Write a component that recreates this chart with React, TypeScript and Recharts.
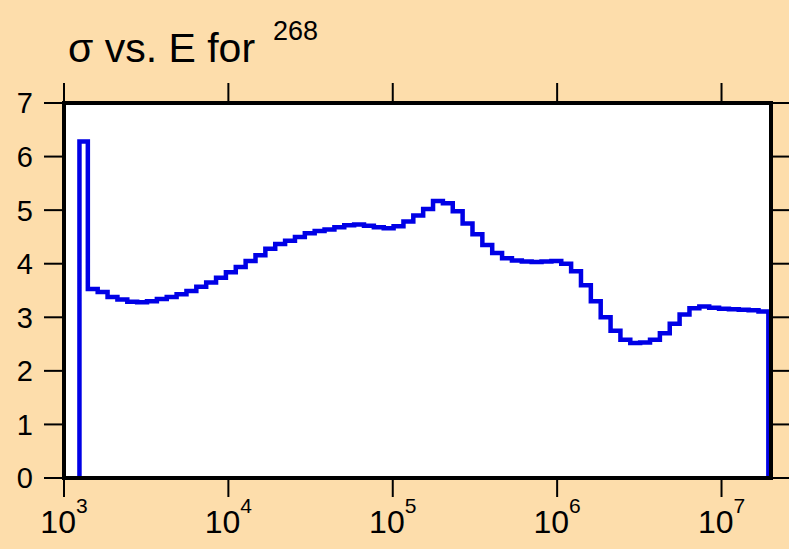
import React from 'react';
import { LineChart, Line, XAxis, YAxis, CartesianGrid } from 'recharts';

// log10(E) of the left edge of the first (spike) bin and its cross section
const spikeStart = 3.094;
const spikeValue = 6.28;

// log10(E) left edges of the regular bins
const binEdges = [
  3.145, 3.205, 3.265, 3.325, 3.385, 3.445, 3.505, 3.565, 3.625, 3.685,
  3.745, 3.805, 3.865, 3.925, 3.985, 4.045, 4.105, 4.165, 4.225, 4.285,
  4.345, 4.405, 4.465, 4.525, 4.585, 4.645, 4.705, 4.765, 4.825, 4.885,
  4.945, 5.005, 5.065, 5.125, 5.185, 5.245, 5.305, 5.365, 5.425, 5.485,
  5.545, 5.605, 5.665, 5.725, 5.785, 5.845, 5.905, 5.965, 6.025, 6.085,
  6.145, 6.205, 6.265, 6.325, 6.385, 6.445, 6.505, 6.565, 6.625, 6.685,
  6.745, 6.805, 6.865, 6.925, 6.985, 7.045, 7.105, 7.165, 7.225,
];
const binEnd = 7.285;

// cross section σ in each bin
const sigma = [
  3.53, 3.47, 3.38, 3.33, 3.29, 3.28, 3.30, 3.34, 3.38, 3.43,
  3.49, 3.57, 3.65, 3.74, 3.84, 3.94, 4.05, 4.16, 4.28, 4.37,
  4.43, 4.50, 4.57, 4.61, 4.64, 4.68, 4.72, 4.73, 4.71, 4.68,
  4.66, 4.70, 4.79, 4.90, 5.02, 5.17, 5.13, 4.98, 4.75, 4.55,
  4.35, 4.20, 4.10, 4.06, 4.04, 4.03, 4.04, 4.05, 4.00, 3.86,
  3.60, 3.30, 3.00, 2.75, 2.58, 2.52, 2.53, 2.58, 2.70, 2.88,
  3.05, 3.17, 3.20, 3.18, 3.16, 3.15, 3.14, 3.13, 3.11,
];

const xTicks = [3, 4, 5, 6, 7];
const yTicks = [0, 1, 2, 3, 4, 5, 6, 7];
const titleMain = 'σ vs. E for';
const titleSup = '268';

const data = [
  { x: spikeStart, y: 0 },
  { x: spikeStart, y: spikeValue },
  ...binEdges.map((x, i) => ({ x, y: sigma[i] })),
  { x: binEnd, y: 0 },
];

const FONT = '"Liberation Sans", Arial, Helvetica, sans-serif';
const BG = '#FDDDAB';

const XTick = (props: any) => {
  const { x, y, payload } = props;
  return (
    <text x={x} y={y + 34} textAnchor="middle" fontSize={32} fontFamily={FONT} fill="#000">
      <tspan>10</tspan>
      <tspan dy={-20} fontSize={21}>{payload.value}</tspan>
    </text>
  );
};

const YTick = (props: any) => {
  const { y, payload } = props;
  return (
    <text x={33} y={y} dy="0.36em" textAnchor="end" fontSize={29} fontFamily={FONT} fill="#000">
      {payload.value}
    </text>
  );
};

const Empty = () => <g />;

const axisLine = { stroke: '#000', strokeWidth: 4, strokeLinecap: 'square' as const };
const tickLine = { stroke: '#000', strokeWidth: 2 };

export default function App() {
  return (
    <div style={{ position: 'fixed', left: 0, top: 0, width: 789, height: 549, background: BG }}>
      <LineChart width={789} height={549} data={data} margin={{ top: 0, right: 0, bottom: 0, left: 0 }}>
        <CartesianGrid xAxisId="b" yAxisId="l" horizontal={false} vertical={false} fill="#FFFFFF" />
        <XAxis
          xAxisId="b"
          type="number"
          dataKey="x"
          domain={[3, 7.301]}
          ticks={xTicks}
          allowDataOverflow
          height={71}
          axisLine={axisLine}
          tickLine={tickLine}
          tickSize={19}
          tick={<XTick />}
          interval={0}
        />
        <XAxis
          xAxisId="t"
          orientation="top"
          type="number"
          dataKey="x"
          domain={[3, 7.301]}
          ticks={xTicks}
          allowDataOverflow
          height={103}
          axisLine={axisLine}
          tickLine={tickLine}
          tickSize={20}
          tick={Empty}
          interval={0}
        />
        <YAxis
          yAxisId="l"
          type="number"
          domain={[0, 7]}
          ticks={yTicks}
          allowDataOverflow
          width={64}
          axisLine={axisLine}
          tickLine={tickLine}
          tickSize={20}
          tick={<YTick />}
          interval={0}
        />
        <YAxis
          yAxisId="r"
          orientation="right"
          type="number"
          domain={[0, 7]}
          ticks={yTicks}
          allowDataOverflow
          width={18}
          axisLine={axisLine}
          tickLine={tickLine}
          tickSize={18}
          tick={Empty}
          interval={0}
        />
        <Line
          xAxisId="b"
          yAxisId="l"
          type="stepAfter"
          dataKey="y"
          stroke="#0000E6"
          strokeWidth={4.5}
          dot={false}
          activeDot={false}
          isAnimationActive={false}
        />
      </LineChart>
      <svg width={789} height={549} style={{ position: 'absolute', left: 0, top: 0, pointerEvents: 'none' }}>
        <text x={68} y={62} fontSize={41} fontFamily={FONT} fill="#000">{titleMain}</text>
        <text x={273} y={40} fontSize={27} fontFamily={FONT} fill="#000">{titleSup}</text>
      </svg>
    </div>
  );
}
